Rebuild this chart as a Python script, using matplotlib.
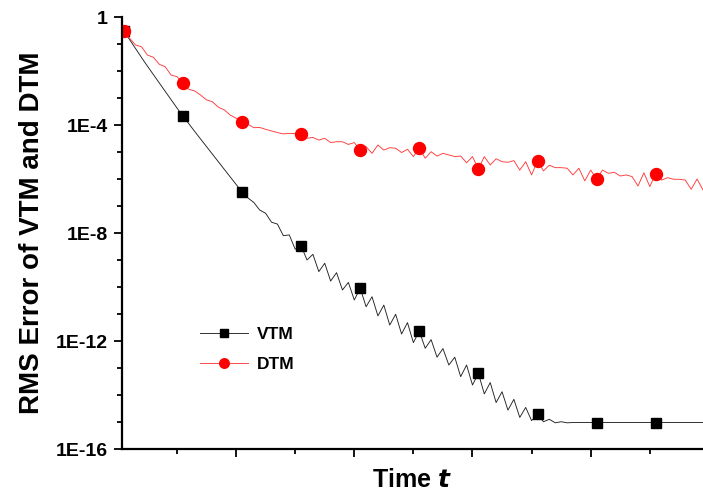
import matplotlib
matplotlib.use("Agg")
import matplotlib.pyplot as plt
import numpy as np

# time steps (one sample per step), markers every 10th step
time = np.arange(1, 100)

# log10 of RMS error
vtm_log10 = [
    -0.50, -0.84, -1.17, -1.50, -1.82, -2.13, -2.44, -2.75, -3.06, -3.37,
    -3.67, -3.95, -4.24, -4.52, -4.80, -5.08, -5.36, -5.64, -5.92, -6.20,
    -6.47, -6.70, -6.87, -7.15, -7.27, -7.60, -7.67, -8.10, -8.07, -8.60,
    -8.47, -9.00, -8.79, -9.43, -9.12, -9.78, -9.47, -10.11, -9.83, -10.48,
    -10.05, -10.73, -10.36, -11.07, -10.67, -11.41, -11.01, -11.74, -11.32, -12.06,
    -11.63, -12.27, -11.95, -12.60, -12.28, -12.89, -12.60, -13.32, -12.89, -13.63,
    -13.20, -13.96, -13.54, -14.28, -13.88, -14.56, -14.16, -14.83, -14.46, -14.95,
    -14.71, -14.99, -14.90, -15.03, -14.99, -15.03, -15.02, -15.02, -15.02, -15.02,
    -15.02, -15.02, -15.02, -15.02, -15.02, -15.02, -15.02, -15.02, -15.02, -15.02,
    -15.02, -15.02, -15.02, -15.02, -15.02, -15.02, -15.02, -15.02, -15.02,
]
dtm_log10 = [
    -0.51, -0.79, -1.04, -1.10, -1.41, -1.49, -1.75, -1.84, -2.15, -2.21,
    -2.43, -2.68, -2.74, -2.89, -3.07, -3.14, -3.34, -3.44, -3.63, -3.75,
    -3.90, -3.97, -4.10, -4.09, -4.16, -4.22, -4.28, -4.33, -4.31, -4.32,
    -4.35, -4.49, -4.46, -4.56, -4.49, -4.65, -4.62, -4.62, -4.72, -4.65,
    -4.93, -4.80, -5.05, -4.74, -4.93, -4.84, -4.86, -5.02, -4.90, -5.17,
    -4.86, -5.23, -4.99, -5.15, -5.05, -5.11, -5.17, -5.15, -5.40, -5.17,
    -5.63, -5.17, -5.48, -5.25, -5.36, -5.38, -5.32, -5.67, -5.36, -5.85,
    -5.32, -5.70, -5.49, -5.58, -5.58, -5.60, -5.85, -5.60, -6.07, -5.67,
    -6.00, -5.67, -5.79, -5.75, -5.89, -5.85, -5.91, -6.26, -5.77, -6.28,
    -5.80, -6.04, -5.95, -6.01, -6.01, -6.04, -6.38, -6.00, -6.41,
]

y_major = [1e0, 1e-4, 1e-8, 1e-12, 1e-16]
y_major_labels = ["1", "1E-4", "1E-8", "1E-12", "1E-16"]
y_minor = [10.0 ** -k for k in range(17)]

vtm = 10.0 ** np.array(vtm_log10)
dtm = 10.0 ** np.array(dtm_log10)

plt.rcParams["font.family"] = ["Liberation Sans", "DejaVu Sans"]
plt.rcParams["font.weight"] = "bold"

fig = plt.figure(figsize=(7.03, 4.95), dpi=100)
ax = fig.add_axes([122 / 703, 1 - 449 / 495, 581 / 703, 432 / 495])

ax.plot(time, vtm, color="#222222", lw=0.65, marker="s", markersize=7.6,
        markevery=10, markerfacecolor="black", markeredgecolor="black",
        label="VTM")
ax.plot(time, dtm, color="#ff3a3a", lw=0.65, marker="o", markersize=8.6,
        markevery=10, markerfacecolor="red", markeredgecolor="red",
        label="DTM")

ax.set_yscale("log")
ax.set_ylim(1e-16, 1)
ax.set_xlim(0.7, 99.0)

ax.yaxis.set_major_locator(matplotlib.ticker.FixedLocator(y_major))
ax.yaxis.set_minor_locator(matplotlib.ticker.FixedLocator(y_minor))
ax.yaxis.set_major_formatter(matplotlib.ticker.FixedFormatter(y_major_labels))
ax.yaxis.set_minor_formatter(matplotlib.ticker.NullFormatter())

ax.set_xticks([20, 40, 60, 80])
ax.set_xticks([10, 30, 50, 70, 90], minor=True)
ax.set_xticklabels([])

for side in ["top", "right"]:
    ax.spines[side].set_visible(False)
for side in ["left", "bottom"]:
    ax.spines[side].set_linewidth(1.6)

ax.tick_params(which="major", direction="out", length=6, width=1.3,
               labelsize=14, pad=4)
ax.tick_params(which="minor", direction="out", length=3.5, width=1.3)

ax.set_xlabel(r"Time $\boldsymbol{t}$", fontsize=18, fontweight="bold",
              labelpad=4)
ax.set_ylabel("RMS Error of VTM and DTM", fontsize=20, fontweight="bold",
              labelpad=8)

ax.legend(loc="upper left", bbox_to_anchor=(0.134, 0.283), frameon=False,
          borderpad=0, borderaxespad=0, handlelength=2.8, handletextpad=0.5,
          labelspacing=0.85, prop={"size": 12.5, "weight": "bold"},
          markerscale=0.8)

fig.savefig("out.png", dpi=100)
